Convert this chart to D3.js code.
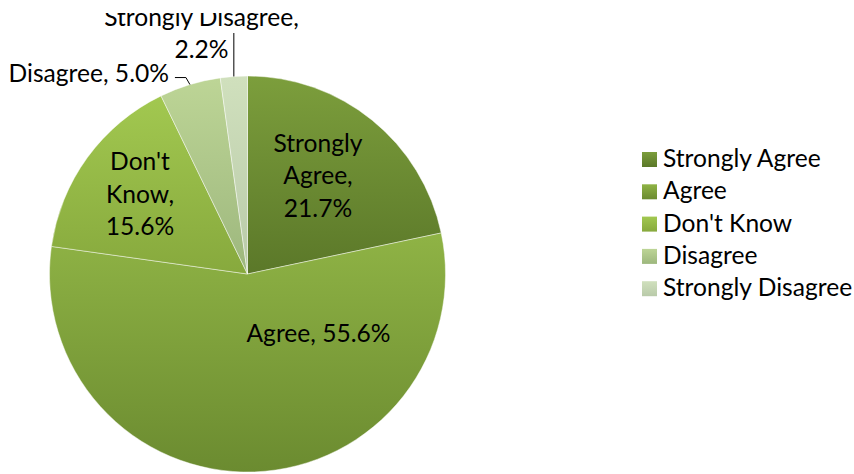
<!DOCTYPE html>
<html>
<head>
<meta charset="utf-8">
<script src="https://cdn.jsdelivr.net/npm/d3@7"></script>
<style>
html,body{margin:0;padding:0;background:#fff;}
svg{display:block;}
text{font-family:Lato, "Noto Sans", sans-serif;fill:#000;}
</style>
</head>
<body>
<svg id="chart" width="854" height="474"></svg>
<script>
const categories = ["Strongly Agree", "Agree", "Don't Know", "Disagree", "Strongly Disagree"];
const values = [21.7, 55.6, 15.6, 5.0, 2.2];
const labels = ["21.7%", "55.6%", "15.6%", "5.0%", "2.2%"];
const colorsTop = ["#7c9e3c", "#8fb345", "#a2c850", "#bdd596", "#d0e0bd"];
const colorsBottom = ["#5b7829", "#6b8b30", "#87a93d", "#9db77d", "#b9caa9"];

const W = 854, H = 474;
const cx = 247.5, cy = 274, R = 198;
const fontSize = 24.6;

const svg = d3.select("#chart");
const defs = svg.append("defs");
categories.forEach((c, i) => {
  const g = defs.append("linearGradient").attr("id", "g" + i)
    .attr("x1", 0).attr("y1", 0).attr("x2", 0).attr("y2", 1);
  g.append("stop").attr("offset", "0%").attr("stop-color", colorsTop[i]);
  g.append("stop").attr("offset", "100%").attr("stop-color", colorsBottom[i]);
});
defs.append("clipPath").attr("id", "topclip")
  .append("rect").attr("x", 0).attr("y", 13).attr("width", W).attr("height", H - 13);

const data = categories.map((c, i) => ({cat: c, value: values[i], label: labels[i], i}));
const pie = d3.pie().sort(null).value(d => d.value);
const arcs = pie(data);
const arc = d3.arc().innerRadius(0).outerRadius(R);

const gPie = svg.append("g").attr("transform", `translate(${cx},${cy})`);
gPie.selectAll("path").data(arcs).join("path")
  .attr("d", arc)
  .attr("fill", d => `url(#g${d.data.i})`)
  .attr("stroke", "rgba(255,255,255,0.45)")
  .attr("stroke-width", 1);

const lh = 32.5;
function addLabel(lines, x, yBase, parent) {
  const t = (parent || svg).append("text").attr("text-anchor", "middle").attr("font-size", fontSize);
  lines.forEach((ln, k) => {
    t.append("tspan").attr("x", x).attr("y", yBase + k * lh).text(ln);
  });
  return t;
}
// Strongly Agree
addLabel(["Strongly", "Agree,", labels[0]], 318, 151.7);
// Agree
addLabel([categories[1] + ", " + labels[1]], 318.5, 341.7);
// Don't Know
addLabel(["Don't", "Know,", labels[2]], 140, 170);
// Disagree (outside, with leader)
{
  const a = (arcs[3].startAngle + arcs[3].endAngle) / 2;
  const ex = cx + Math.sin(a) * R, ey = cy - Math.cos(a) * R;
  svg.append("path")
    .attr("d", `M${ex},${ey} L${ex - 4},${ey - 7} L${ex - 15},${ey - 7}`)
    .attr("fill", "none").attr("stroke", "#000").attr("stroke-width", 1);
  svg.append("text").attr("text-anchor", "end").attr("font-size", fontSize)
    .attr("x", ex - 21).attr("y", ey - 3).text(categories[3] + ", " + labels[3]);
}
// Strongly Disagree (outside, with leader)
{
  const a = (arcs[4].startAngle + arcs[4].endAngle) / 2;
  const ex = cx + Math.sin(a) * R, ey = cy - Math.cos(a) * R;
  svg.append("path")
    .attr("d", `M${ex},${ey} L${ex},33`)
    .attr("fill", "none").attr("stroke", "#000").attr("stroke-width", 1);
  const gc = svg.append("g").attr("clip-path", "url(#topclip)");
  addLabel([categories[4] + ",", labels[4]], 201.5, 25.5, gc);
}

// Legend
const lg = svg.append("g").attr("transform", "translate(642,152)");
const item = lg.selectAll("g").data(categories).join("g")
  .attr("transform", (d, i) => `translate(0,${i * 32.3})`);
item.append("rect").attr("width", 15).attr("height", 15)
  .attr("fill", (d, i) => `url(#g${i})`);
item.append("text").attr("x", 21).attr("y", 15).attr("font-size", fontSize).text(d => d);
</script>
</body>
</html>
